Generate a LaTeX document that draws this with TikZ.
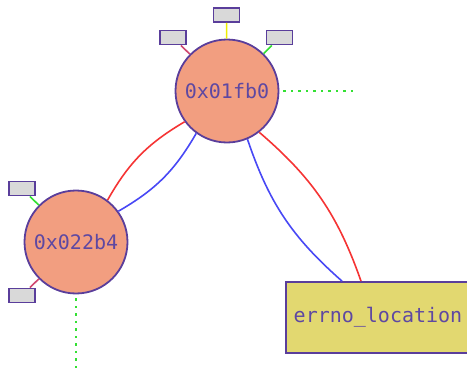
\documentclass[tikz,border=0pt]{standalone}
\usepackage{fontspec}
\newfontfamily\monofont{DejaVu Sans Mono}
\definecolor{salmon}{HTML}{F29E80}
\definecolor{purp}{HTML}{5A3E9B}
\definecolor{txtp}{HTML}{5E48A2}
\definecolor{boxy}{HTML}{E2D870}
\definecolor{grayb}{HTML}{D9D9D9}
\definecolor{redl}{HTML}{F53434}
\definecolor{bluel}{HTML}{4848F5}
\definecolor{greenl}{HTML}{33E033}
\definecolor{pinkl}{HTML}{D04870}
\definecolor{yell}{HTML}{EEEE00}
\tikzset{
  hexnode/.style={circle, draw=purp, line width=1.8pt, fill=salmon, minimum size=103pt, inner sep=0pt,
     font=\monofont\fontsize{20}{22}\selectfont, text=txtp},
  funcbox/.style={rectangle, draw=purp, line width=1.8pt, fill=boxy, minimum width=184pt, minimum height=71pt,
     font=\monofont\fontsize{20}{22}\selectfont, text=txtp},
  stub/.style={rectangle, draw=purp, line width=1.8pt, fill=grayb, minimum width=26pt, minimum height=14pt, inner sep=0pt},
  edge/.style={line width=1.6pt},
  dotline/.style={greenl, line width=2.2pt, dash pattern=on 2.2pt off 5.3pt},
}
\begin{document}
\begin{tikzpicture}[x=1pt,y=-1pt]
\useasboundingbox (0,0) rectangle (467,372);
\node[hexnode] (A) at (227,91) {0x01fb0};
\node[hexnode] (B) at (76,242) {0x022b4};
\node[funcbox] (E) at (378,317.5) {errno\_location};
\node[stub] (s1) at (226.5,15) {};
\node[stub] (s2) at (173,37.5) {};
\node[stub] (s3) at (279.5,37.5) {};
\node[stub] (s4) at (22,188.5) {};
\node[stub] (s5) at (22,295.5) {};
\coordinate (d1) at (356,91);
\coordinate (d2) at (76,370);
\draw[edge, yell] (s1) -- (A);
\draw[edge, pinkl] (s2) -- (A);
\draw[edge, greenl] (s3) -- (A);
\draw[edge, greenl] (s4) -- (B);
\draw[edge, pinkl] (s5) -- (B);
\draw[dotline] (A.east) ++(4,0) -- (d1);
\draw[dotline] (B.south) ++(0,4) -- (d2);
\draw[edge, redl] (A.216) to[bend right=15] (B.53);
\draw[edge, bluel] (A.234) to[bend left=15] (B.36);
\draw[edge, bluel] (A.-67) to[bend right=15] (E.north west -| 342,0);
\draw[edge, redl] (A.-52) to[bend left=15] (E.north west -| 361,0);
\end{tikzpicture}
\end{document}
